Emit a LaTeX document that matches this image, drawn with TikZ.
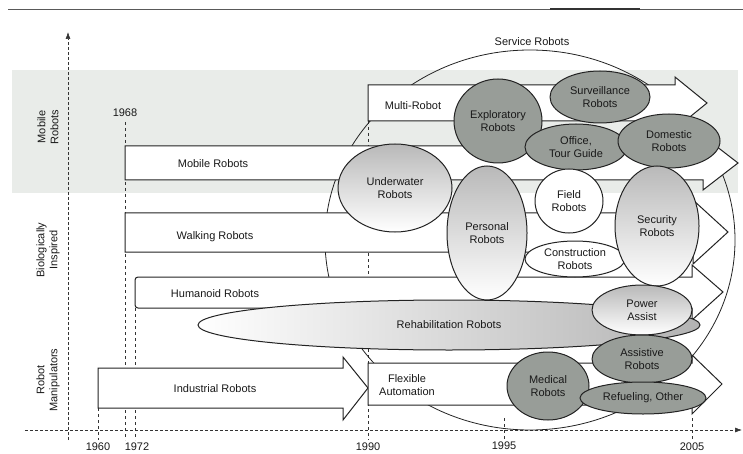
\documentclass[tikz,border=0pt]{standalone}
\usepackage{fontspec}
\setmainfont{Liberation Sans}
\usetikzlibrary{shapes.geometric,arrows.meta}
\definecolor{bandgray}{RGB}{233,236,233}
\definecolor{bubdark}{RGB}{152,157,152}
\definecolor{inkgray}{RGB}{35,35,35}
\begin{document}
\begin{tikzpicture}[x=1pt,y=-1pt,
		every node/.style={font=\fontsize{11}{13}\selectfont,text=black!90},
		box/.style={draw=inkgray,line width=1pt,fill=white,line join=miter},
		bub/.style={ellipse,draw=inkgray,line width=1pt,inner sep=0pt,align=center},
		darkbub/.style={bub,fill=bubdark},
		lightbub/.style={bub,top color=gray!55,bottom color=white},
		whitebub/.style={bub,fill=white},
		timeline/.style={line width=0.6pt,densely dashed,draw=gray!40!black},
		yearline/.style={line width=0.5pt,dashed,draw=gray!40!black}]
		\useasboundingbox (0,0) rectangle (743,454);
		
		%page rule
		\draw[line width=0.8pt,color=gray!70!black] (8,9) -- (743,9);
		\draw[line width=1.5pt,color=gray!40!black] (550,9) -- (640,9);
		%band
		\fill[bandgray] (12,70) rectangle (738,193);
		%axes
		\draw[timeline,-{Latex[length=7pt,width=5pt]}] (68,440) -- (68,32);
		\draw[timeline,-{Latex[length=7pt,width=5pt]}] (25,430) -- (742,430);
		%years
		\draw[yearline] (98,408) -- (98,440);
		\draw[yearline] (125,122) -- (125,440);
		\draw[yearline] (135,308) -- (135,440);
		\draw[yearline] (368,85) -- (368,440);
		\draw[yearline] (504,418) -- (504,440);
		\draw[yearline] (692,418) -- (692,440);
		
		%service
		\node[ellipse,draw=inkgray,line width=0.8pt,minimum width=410pt,minimum height=380pt](service) at (530,240) {};
		
		%arrows
		\draw[box] (368,85) -- (675,85) -- (675,77) -- (707,103) -- (675,129) -- (675,121) -- (368,121) -- cycle;
		\draw[box] (125,146) -- (703,146) -- (703,136) -- (738,163) -- (703,190) -- (703,180) -- (125,180) -- cycle;
		\draw[box] (125,213) -- (693,213) -- (693,200) -- (728,232) -- (693,264) -- (693,252) -- (125,252) -- cycle;
		\draw[box,rounded corners=3pt] (400,277) -- (135,277) -- (135,308) -- (400,308) [sharp corners] -- (692,308) -- (692,320) -- (723,292) -- (692,265) -- (692,277) -- cycle;
		\draw[box] (98,368) -- (343,368) -- (343,357) -- (368,388) -- (343,420) -- (343,408) -- (98,408) -- cycle;
		\draw[box] (368,363) -- (692,363) -- (692,355) -- (722,384) -- (692,414) -- (692,405) -- (368,405) -- cycle;
		\node(multi) at (413,106) {Multi-Robot};
		\node(mobile) at (213,164) {Mobile Robots};
		\node(walking) at (215,237) {Walking Robots};
		\node(humanoid) at (215,294) {Humanoid Robots};
		\node(industrial) at (215,389) {Industrial Robots};
		\node[align=center](flexible) at (407,385) {Flexible\\Automation};
		
		%bubbles
		\node[bub,left color=white,right color=gray!60,minimum width=502pt,minimum height=50pt](rehab) at (449,325) {Rehabilitation Robots};
		\node[lightbub,minimum width=114pt,minimum height=88pt](underwater) at (395,188) {Underwater\\Robots};
		\node[lightbub,minimum width=80pt,minimum height=134pt](personal) at (487,233) {Personal\\Robots};
		\node[darkbub,minimum width=88pt,minimum height=84pt](exploratory) at (498,121) {Exploratory\\Robots};
		\node[darkbub,minimum width=100pt,minimum height=52pt](surveillance) at (600,97) {Surveillance\\Robots};
		\node[darkbub,minimum width=102pt,minimum height=46pt](office) at (576,147) {Office,\\Tour Guide};
		\node[darkbub,minimum width=102pt,minimum height=54pt](domestic) at (669,141) {Domestic\\Robots};
		\node[whitebub,minimum width=68pt,minimum height=64pt](field) at (569,201) {Field\\Robots};
		\node[whitebub,minimum width=100pt,minimum height=36pt](construction) at (575,259) {Construction\\Robots};
		\node[lightbub,minimum width=84pt,minimum height=120pt](security) at (657,226) {Security\\Robots};
		\node[lightbub,minimum width=100pt,minimum height=50pt](power) at (642,310) {Power\\Assist};
		\node[darkbub,minimum width=100pt,minimum height=48pt](assistive) at (642,359) {Assistive\\Robots};
		\node[darkbub,minimum width=82pt,minimum height=68pt](medical) at (548,386) {Medical\\Robots};
		\node[darkbub,minimum width=126pt,minimum height=32pt](refuel) at (643,398) {Refueling, Other};
		
		%labels
		\node(servicelbl) at (532,42) {Service Robots};
		\node[rotate=90,align=center](lblmobile) at (48,127) {Mobile\\Robots};
		\node[rotate=90,align=center](lblbio) at (48,250) {Biologically\\Inspired};
		\node[rotate=90,align=center](lblmanip) at (48,380) {Robot\\Manipulators};
		\node(y1968) at (125,113) {1968};
		\node(y1960) at (98,447) {1960};
		\node(y1972) at (137,447) {1972};
		\node(y1990) at (368,447) {1990};
		\node(y1995) at (504,446) {1995};
		\node(y2005) at (692,447) {2005};
		\end{tikzpicture}
\end{document}
